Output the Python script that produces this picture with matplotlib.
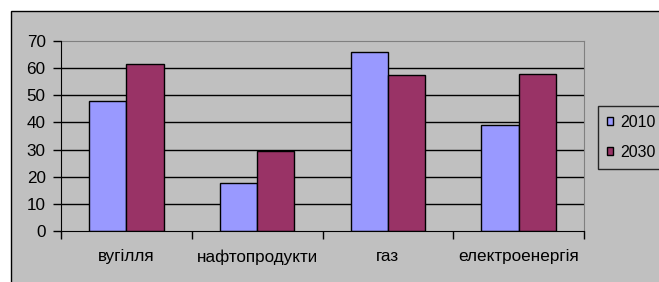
import numpy as np
import matplotlib.pyplot as plt
from matplotlib.patches import Rectangle

plt.rcParams['font.family'] = ['Liberation Sans', 'DejaVu Sans']

categories = ["вугілля", "нафтопродукти", "газ", "електроенергія"]
years = ["2010", "2030"]
values_2010 = [48, 17.8, 66, 39]
values_2030 = [61.4, 29.4, 57.4, 57.9]

W, H = 659, 282
fig = plt.figure(figsize=(W / 100, H / 100), dpi=100)
fig.patch.set_facecolor("white")

# chart area (grey, black border, right/bottom edges fall outside the image)
fig.patches.append(Rectangle((11 / W, -0.05), 1.2, 1 - 11 / H + 0.05,
                             transform=fig.transFigure, facecolor="#C0C0C0",
                             edgecolor="black", lw=1, zorder=-5))

left, right, top, bottom = 61, 584, 41, 231
ax = fig.add_axes([left / W, 1 - bottom / H, (right - left) / W, (bottom - top) / H])
ax.set_zorder(2)
ax.set_facecolor("#C0C0C0")

x = np.arange(len(categories))
bw = 1 / 3.5
ax.bar(x - bw / 2, values_2010, bw, color="#9999FF", edgecolor="black", lw=1, label=years[0], zorder=3)
ax.bar(x + bw / 2, values_2030, bw, color="#993366", edgecolor="black", lw=1, label=years[1], zorder=3)

ax.set_xlim(-0.5, len(categories) - 0.5)
ax.set_ylim(0, 70)
ax.set_yticks(range(0, 71, 10))
for yv in range(10, 70, 10):
    ax.axhline(yv, color="black", lw=1, zorder=1)

ax.set_xticks(np.arange(-0.5, len(categories)), labels=[])
ax.set_xticks(x, labels=categories, minor=True)
ax.tick_params(axis="x", which="major", length=6, width=1, direction="out", color="black")
ax.tick_params(axis="x", which="minor", length=0, pad=13, labelsize=12.3)
ax.tick_params(axis="y", length=6, width=1, direction="out", pad=5, labelsize=12.3)

for s in ["left", "bottom"]:
    ax.spines[s].set_color("black")
    ax.spines[s].set_zorder(4)
for s in ["top", "right"]:
    ax.spines[s].set_color("#808080")

leg = fig.legend(loc="upper left", bbox_to_anchor=(598 / W, 1 - 106 / H),
                 borderaxespad=0, frameon=True, fancybox=False, fontsize=11.5,
                 handlelength=0.4, handleheight=0.4, handletextpad=0.45,
                 labelspacing=0.95, borderpad=0.55)
leg.set_zorder(3)
leg.get_frame().set_edgecolor("black")
leg.get_frame().set_facecolor("#C0C0C0")
leg.get_frame().set_linewidth(1)

fig.savefig("out.png", dpi=100)
